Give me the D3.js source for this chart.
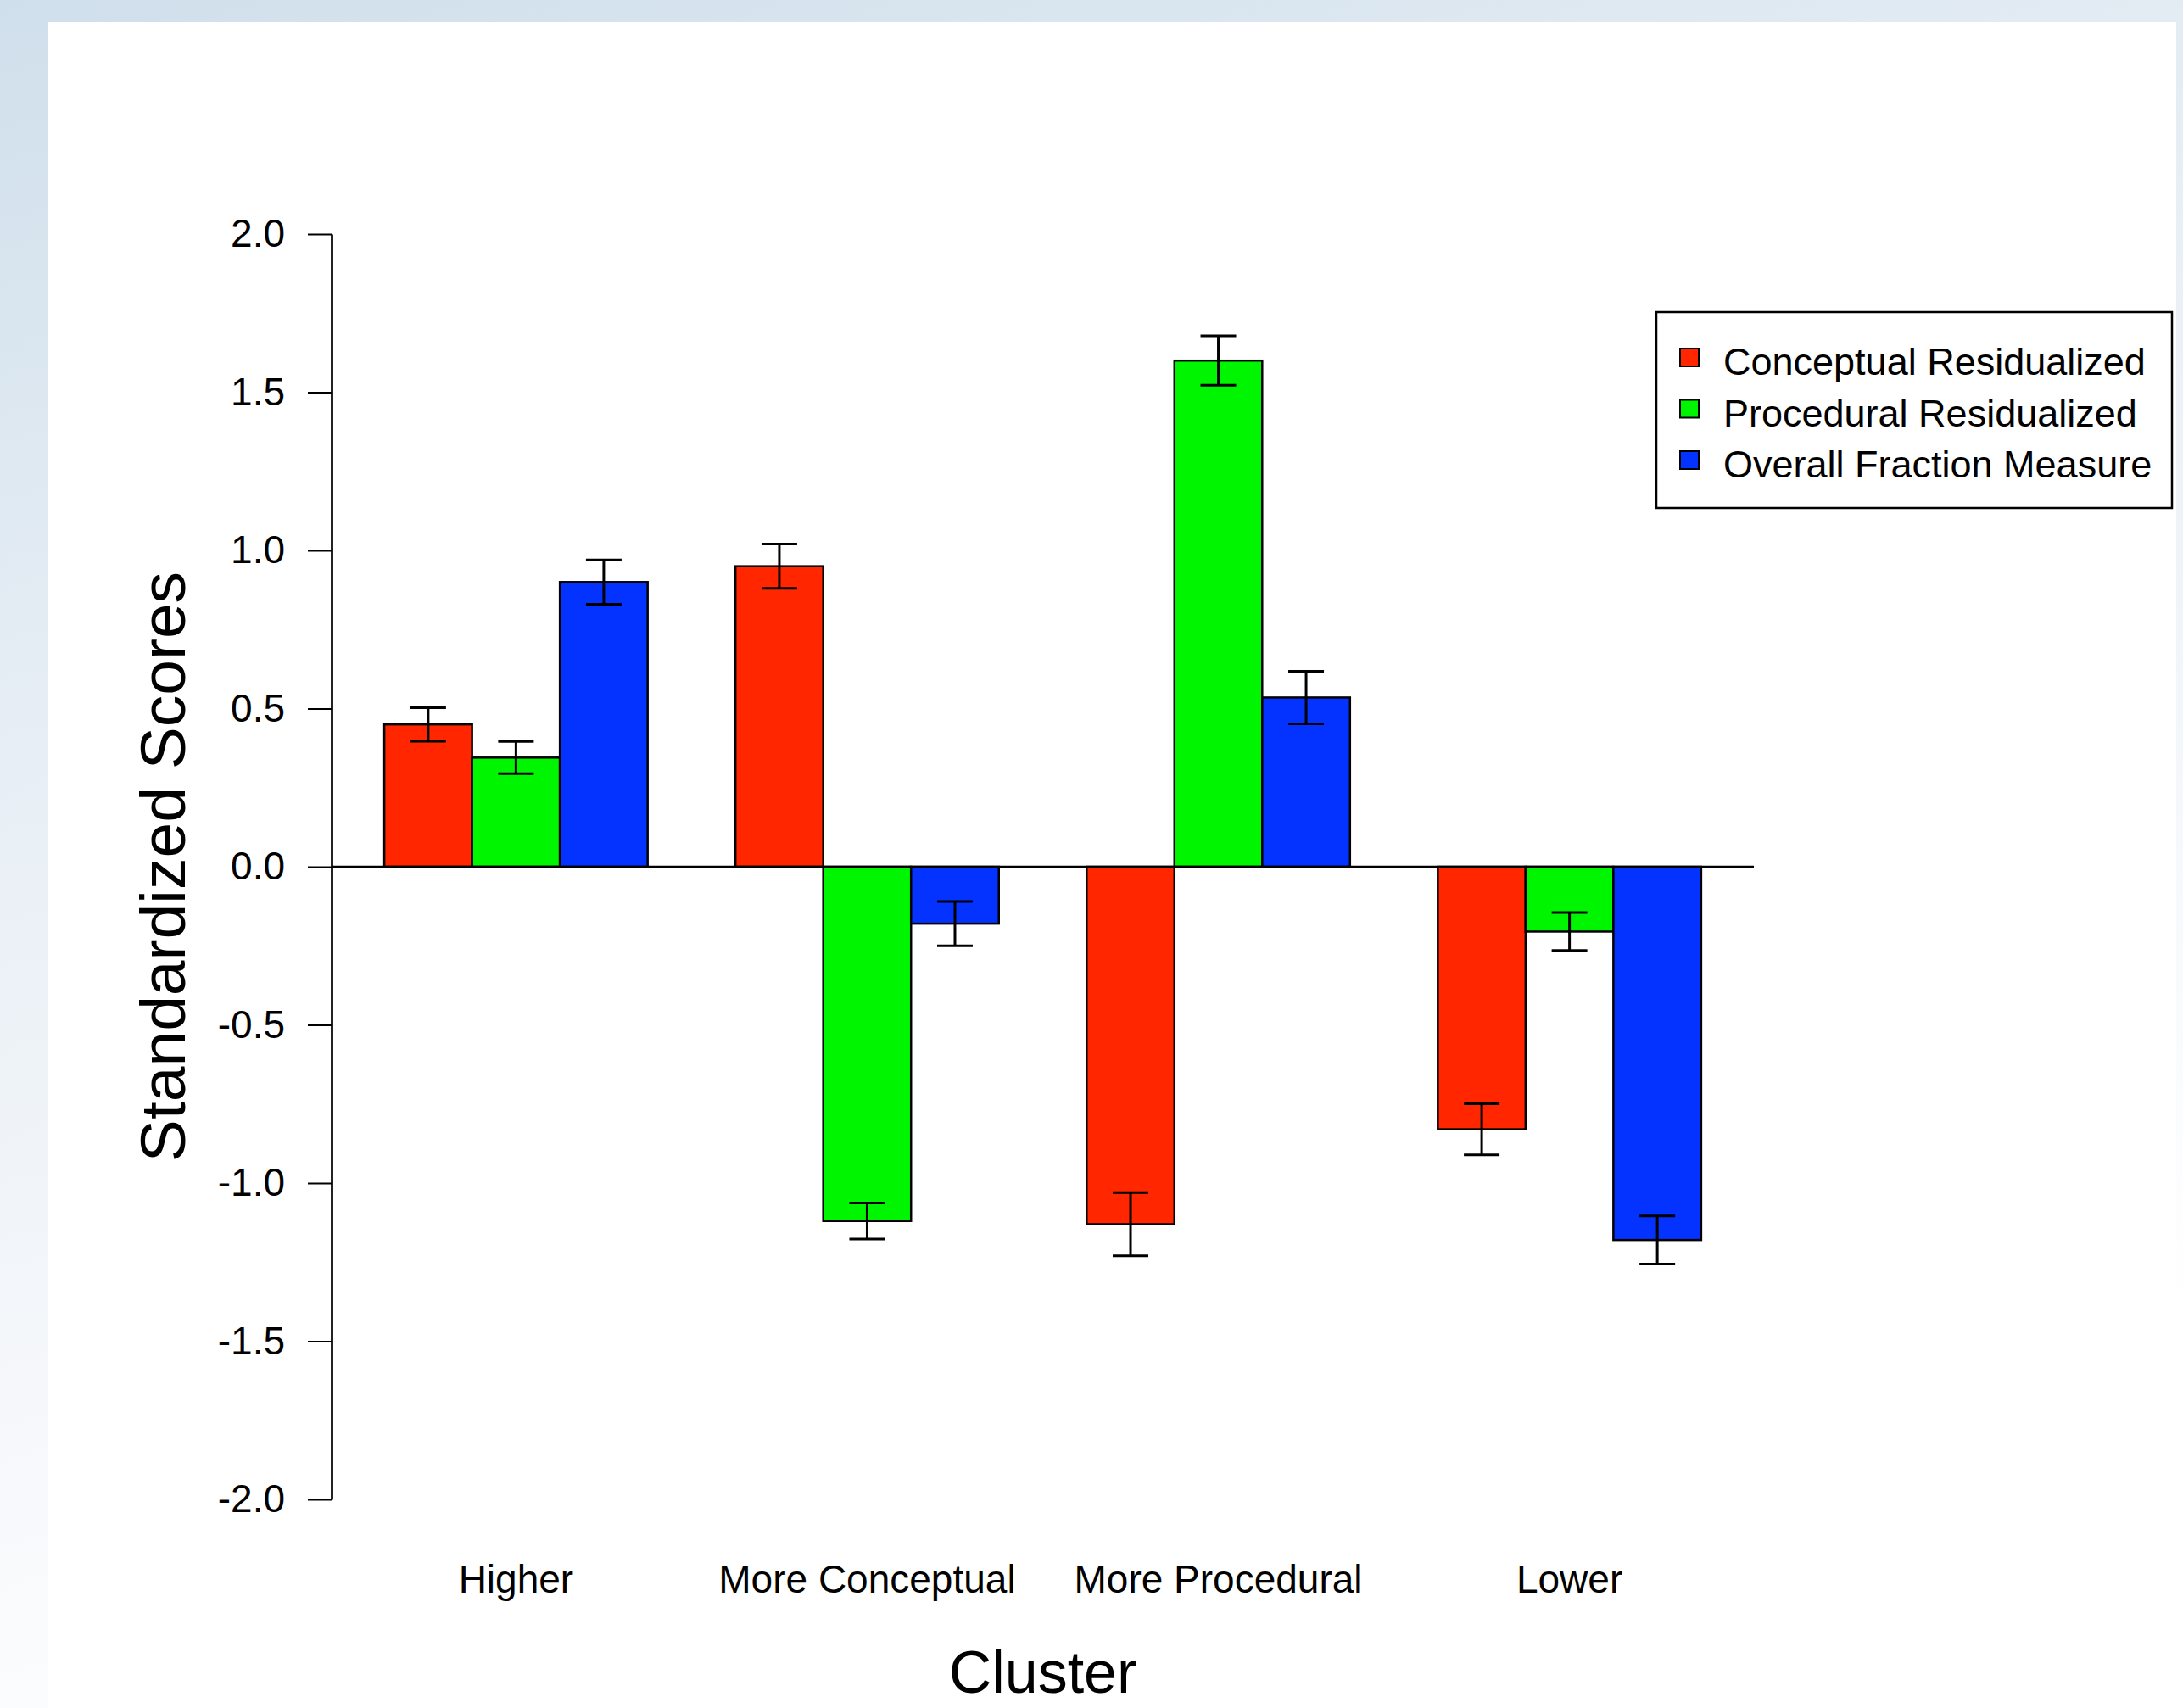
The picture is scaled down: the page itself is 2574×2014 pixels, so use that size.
<!DOCTYPE html>
<html>
<head>
<meta charset="utf-8">
<script src="https://cdn.jsdelivr.net/npm/d3@7"></script>
<style>
body { margin: 0; background: #fff; }
svg text { font-family: "Liberation Sans", Arial, Helvetica, sans-serif; fill: #000; }
</style>
</head>
<body>
<svg id="chart" width="2574" height="2014"></svg>
<script>
var clusters = ["Higher", "More Conceptual", "More Procedural", "Lower"];
var measures = ["Conceptual Residualized", "Procedural Residualized", "Overall Fraction Measure"];
var conceptual = [0.45, 0.95, -1.13, -0.83];
var procedural = [0.345, -1.12, 1.60, -0.205];
var overall = [0.90, -0.18, 0.535, -1.18];
var conceptualErr = [0.053, 0.07, 0.10, 0.081];
var proceduralErr = [0.051, 0.057, 0.078, 0.06];
var overallErr = [0.07, 0.07, 0.083, 0.076];
var colors = ["#ff2600", "#00f500", "#0433ff"];
var yTicks = [-2, -1.5, -1, -0.5, 0, 0.5, 1, 1.5, 2];

var seriesValues = [conceptual, procedural, overall];
var seriesErrs = [conceptualErr, proceduralErr, overallErr];

// one row per bar
var bars = [];
clusters.forEach(function (c, i) {
    measures.forEach(function (m, j) {
        bars.push({ cluster: c, measure: m, value: seriesValues[j][i], err: seriesErrs[j][i], color: colors[j] });
    });
});

var svg = d3.select("#chart");

// page background + white panel
var defs = svg.append("defs");
var grad = defs.append("linearGradient")
    .attr("id", "bg")
    .attr("x1", 0).attr("y1", 0).attr("x2", 0.35).attr("y2", 1);
grad.append("stop").attr("offset", 0).attr("stop-color", "#cfdfeb");
grad.append("stop").attr("offset", 0.35).attr("stop-color", "#e5edf4");
grad.append("stop").attr("offset", 0.75).attr("stop-color", "#f6f8fb");
grad.append("stop").attr("offset", 1).attr("stop-color", "#ffffff");
svg.append("rect").attr("width", 2574).attr("height", 2014).style("fill", "url(#bg)");
svg.append("rect").attr("x", 57).attr("y", 26).attr("width", 2509).attr("height", 1988).style("fill", "#fff");

// scales (bar units like R barplot: width 1, gap 1 between groups)
var xUnit = d3.scaleLinear().domain([0.4, 16.6]).range([391, 2068]);
var x0 = d3.scaleBand().domain(clusters).range([xUnit(1), xUnit(16)]).paddingInner(0.25);
var x1 = d3.scaleBand().domain(measures).range([0, x0.bandwidth()]);
var y = d3.scaleLinear().domain([-2, 2]).range([1768, 276]);

// y axis
var yAxis = svg.append("g")
    .attr("transform", "translate(" + xUnit(0.4) + ",0)")
    .call(d3.axisLeft(y)
        .tickValues(yTicks)
        .tickFormat(function (d) { return d.toFixed(1); })
        .tickSize(28)
        .tickSizeOuter(0)
        .tickPadding(27));
yAxis.select(".domain").style("stroke", "#222").style("stroke-width", 3);
yAxis.selectAll(".tick line").style("stroke", "#000").style("stroke-width", 2);
yAxis.selectAll(".tick text")
    .style("font-size", "46px")
    .style("font-family", "'Liberation Sans', Arial, sans-serif")
    .style("fill", "#000");

// bars
svg.append("g").selectAll("rect")
    .data(bars)
    .enter()
    .append("rect")
    .attr("x", function (d) { return x0(d.cluster) + x1(d.measure); })
    .attr("y", function (d) { return y(Math.max(0, d.value)); })
    .attr("width", x1.bandwidth())
    .attr("height", function (d) { return Math.abs(y(d.value) - y(0)); })
    .style("fill", function (d) { return d.color; })
    .style("stroke", "#000")
    .style("stroke-width", 2.5);

// zero line
svg.append("line")
    .attr("x1", xUnit(0.4)).attr("x2", xUnit(16.6))
    .attr("y1", y(0)).attr("y2", y(0))
    .style("stroke", "#000")
    .style("stroke-width", 2.5);

// error bars
var capHalf = 21;
var eb = svg.append("g").selectAll("g")
    .data(bars)
    .enter()
    .append("g")
    .attr("transform", function (d) { return "translate(" + (x0(d.cluster) + x1(d.measure) + x1.bandwidth() / 2) + ",0)"; });
eb.append("line")
    .attr("y1", function (d) { return y(d.value + d.err); })
    .attr("y2", function (d) { return y(d.value - d.err); });
eb.append("line")
    .attr("x1", -capHalf).attr("x2", capHalf)
    .attr("y1", function (d) { return y(d.value + d.err); })
    .attr("y2", function (d) { return y(d.value + d.err); });
eb.append("line")
    .attr("x1", -capHalf).attr("x2", capHalf)
    .attr("y1", function (d) { return y(d.value - d.err); })
    .attr("y2", function (d) { return y(d.value - d.err); });
eb.selectAll("line").style("stroke", "#000").style("stroke-width", 3);

// category labels
svg.append("g").selectAll("text")
    .data(clusters)
    .enter()
    .append("text")
    .attr("x", function (d) { return x0(d) + x0.bandwidth() / 2; })
    .attr("y", 1878)
    .attr("text-anchor", "middle")
    .style("font-size", "46px")
    .text(function (d) { return d; });

// axis titles
svg.append("text")
    .attr("x", (xUnit(0.4) + xUnit(16.6)) / 2)
    .attr("y", 1996)
    .attr("text-anchor", "middle")
    .style("font-size", "70px")
    .text("Cluster");

svg.append("text")
    .attr("transform", "translate(218," + y(0) + ") rotate(-90)")
    .attr("text-anchor", "middle")
    .style("font-size", "75px")
    .text("Standardized Scores");

// legend
var legend = svg.append("g").attr("transform", "translate(1953,368)");
legend.append("rect")
    .attr("width", 608)
    .attr("height", 231)
    .style("fill", "#fff")
    .style("stroke", "#000")
    .style("stroke-width", 2.5);
var items = legend.selectAll(".item")
    .data(measures)
    .enter()
    .append("g")
    .attr("class", "item")
    .attr("transform", function (d, i) { return "translate(0," + (74 + i * 60.5) + ")"; });
items.append("rect")
    .attr("x", 28).attr("y", -31)
    .attr("width", 22).attr("height", 21)
    .style("fill", function (d, i) { return colors[i]; })
    .style("stroke", "#000")
    .style("stroke-width", 2);
items.append("text")
    .attr("x", 79)
    .attr("y", 0)
    .style("font-size", "45px")
    .text(function (d) { return d; });
</script>
</body>
</html>
